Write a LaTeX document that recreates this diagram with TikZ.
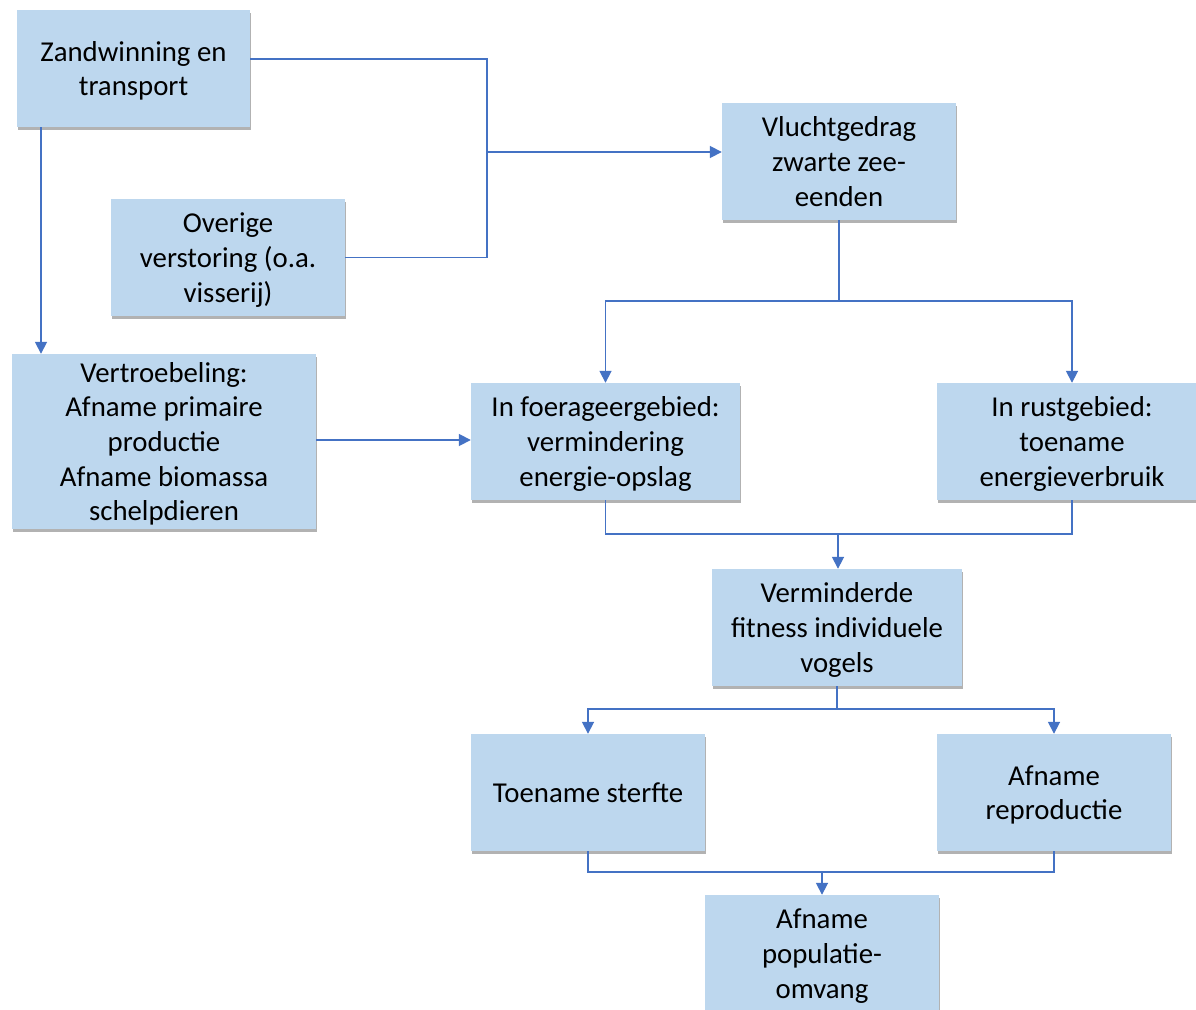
\documentclass[tikz,border=0pt]{standalone}
\usepackage{fontspec}
\setmainfont{Carlito}
\usetikzlibrary{arrows.meta,shadows}
\definecolor{boxfill}{RGB}{189,215,238}
\definecolor{linkblue}{RGB}{68,114,196}
% struts that fix the extent of the first and last text line
\newcommand\firststrut{\rule{0pt}{27pt}}
\newcommand\laststrut{\rule[-7pt]{0pt}{7pt}}
\begin{document}
\begin{tikzpicture}[x=1pt,y=-1pt,
  fbox/.style={rectangle, fill=boxfill, inner sep=0pt, align=center,
    font=\fontsize{28.8}{34.7}\selectfont,
    drop shadow={shadow xshift=1pt, shadow yshift=-3pt, fill=black, opacity=0.3}},
  link/.style={draw=linkblue, line width=1.7pt},
  arr/.style={link, -{Triangle[length=12pt,width=12pt]}}]
\useasboundingbox (0,0) rectangle (1196,1009);
\clip (0,0) rectangle (1196,1009);
\fill[white] (0,0) rectangle (1196,1009);

% boxes
\node[fbox, minimum width=233pt, minimum height=117pt] (zand) at (133.5,68.5) {\firststrut Zandwinning en\\transport\laststrut};
\node[fbox, minimum width=234pt, minimum height=117pt] (overig) at (228,257.5) {\firststrut Overige\\verstoring (o.a.\\visserij)\laststrut};
\node[fbox, minimum width=234pt, minimum height=117pt] (vlucht) at (839,161.5) {\firststrut Vluchtgedrag\\zwarte zee-\\eenden\laststrut};
\node[fbox, minimum width=304pt, minimum height=175pt] (vertr) at (164,441.5) {\firststrut Vertroebeling:\\Afname primaire\\productie\\Afname biomassa\\schelpdieren\laststrut};
\node[fbox, minimum width=269pt, minimum height=117pt] (foer) at (605.5,441.5) {\firststrut In foerageergebied:\\vermindering\\energie-opslag\laststrut};
\node[fbox, minimum width=270pt, minimum height=117pt] (rust) at (1072,441.5) {\firststrut In rustgebied:\\toename\\energieverbruik\laststrut};
\node[fbox, minimum width=250pt, minimum height=117pt] (fit) at (837,627.5) {\firststrut Verminderde\\fitness individuele\\vogels\laststrut};
\node[fbox, minimum width=234pt, minimum height=117pt] (sterf) at (588,792.5) {Toename sterfte};
\node[fbox, minimum width=234pt, minimum height=117pt] (repro) at (1054,792.5) {\firststrut Afname\\reproductie\laststrut};
\node[fbox, minimum width=234pt, minimum height=117pt] (popul) at (822,953.5) {\firststrut Afname\\populatie-\\omvang\laststrut};

% junction points
\coordinate (j1) at (487,152);
\coordinate (j2) at (839,301);
\coordinate (j3) at (838,534);
\coordinate (j4) at (837,709);
\coordinate (j5) at (822,872);

% disturbance sources to flight behaviour
\draw[link] (zand.east |- 0,59) -| (j1) |- (overig.east);
\draw[arr] (j1) -- (vlucht.west |- j1);
\draw[arr] (zand.south -| 41,0) -- (vertr.north -| 41,0);
\draw[arr] (vertr.east |- 0,440) -- (foer.west |- 0,440);

% flight behaviour to feeding / resting areas
\draw[link] (vlucht.south) -- (j2);
\draw[arr] (j2) -| (foer.north);
\draw[arr] (j2) -| (rust.north);

% energy effects to fitness
\draw[link] (foer.south) |- (j3);
\draw[link] (rust.south) |- (j3);
\draw[arr] (j3) -- (fit.north -| j3);

% fitness to mortality / reproduction
\draw[link] (fit.south) -- (j4);
\draw[arr] (j4) -| (sterf.north);
\draw[arr] (j4) -| (repro.north);

% population size
\draw[link] (sterf.south) |- (j5);
\draw[link] (repro.south) |- (j5);
\draw[arr] (j5) -- (popul.north -| j5);
\end{tikzpicture}
\end{document}
